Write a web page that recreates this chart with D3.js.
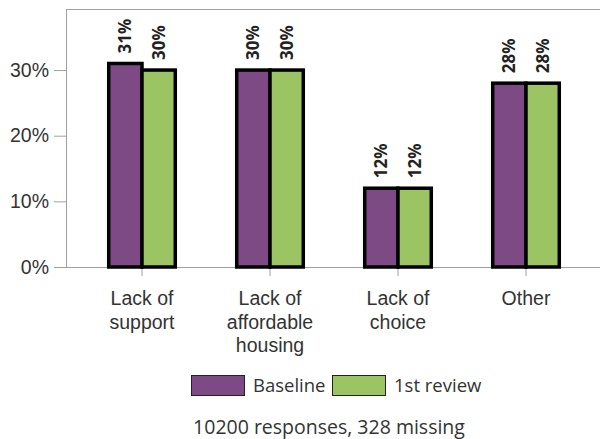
<!DOCTYPE html>
<html>
<head>
<meta charset="utf-8">
<script src="https://cdn.jsdelivr.net/npm/d3@7"></script>
<style>
  body { margin: 0; background: #fff; }
  svg { font-family: 'Open Sans', sans-serif; }
  .eje text { fill: #333; font-size: 19.5px; }
  .eje line, .eje path { stroke: #a0a0a0; }
  .etiqueta { font-weight: bold; font-size: 17px; fill: #222; }
</style>
</head>
<body>
<div id="graf"></div>
<script>
// I. Datos
categorias = [['Lack of', 'support'], ['Lack of', 'affordable', 'housing'], ['Lack of', 'choice'], ['Other']]
series = ['Baseline', '1st review']
baseline = [31, 30, 12, 28]
revision = [30, 30, 12, 28]
ticksY = [0, 10, 20, 30]
pie = '10200 responses, 328 missing'
colores = ['#7d4a86', '#9cc462']

// II. Configuración
ancho_total = 600
alto_total = 439
margins = { top: 9, left: 66, right: 0, bottom: 172 }
ancho = ancho_total - margins.left - margins.right
alto = alto_total - margins.top - margins.bottom

svg = d3.select('#graf').append('svg')
        .attr('width', ancho_total)
        .attr('height', alto_total)

g = svg.append('g')
       .attr('transform', `translate(${ margins.left }, ${ margins.top })`)

nombres = categorias.map(d => d.join(' '))

x = d3.scaleBand()
      .domain(nombres)
      .range([12, 524])
      .paddingInner(0.48)
      .paddingOuter(0.24)

x1 = d3.scaleBand()
       .domain(series)
       .range([0, x.bandwidth()])

y = d3.scaleLinear()
      .domain([0, 39.3])
      .range([alto, 0])

color = d3.scaleOrdinal()
          .domain(series)
          .range(colores)

// marco superior
g.append('line')
 .attr('x1', 0).attr('x2', ancho)
 .attr('y1', 0.5).attr('y2', 0.5)
 .attr('stroke', '#a0a0a0')

// ejes
yAxisGroup = g.append('g')
              .attr('class', 'eje')
              .call(d3.axisLeft(y)
                      .tickValues(ticksY)
                      .tickSize(12)
                      .tickPadding(5)
                      .tickFormat(d => d + '%'))
yAxisGroup.select('.domain').attr('d', `M0.5,0V${ alto }`)

xAxisGroup = g.append('g')
              .attr('class', 'eje')
              .attr('transform', `translate(0, ${ alto })`)
              .call(d3.axisBottom(x).tickSize(9).tickFormat(''))
xAxisGroup.select('.domain').attr('d', `M0,0.5H${ ancho }`)

xAxisGroup.selectAll('.tick').each(function(d, i) {
  t = d3.select(this).append('text')
        .attr('y', 38)
        .attr('text-anchor', 'middle')
  categorias[i].forEach((linea, j) => {
    t.append('tspan')
     .attr('x', 0)
     .attr('dy', j == 0 ? 0 : 23.5)
     .text(linea)
  })
})

// barras
datos = []
nombres.forEach((c, i) => {
  datos.push({ cat: c, serie: series[0], valor: baseline[i] })
  datos.push({ cat: c, serie: series[1], valor: revision[i] })
})

g.selectAll('rect.barra')
 .data(datos)
 .enter()
 .append('rect')
   .attr('class', 'barra')
   .attr('x', d => x(d.cat) + x1(d.serie))
   .attr('y', d => y(d.valor))
   .attr('width', x1.bandwidth())
   .attr('height', d => alto - y(d.valor))
   .attr('fill', d => color(d.serie))
   .attr('stroke', '#000')
   .attr('stroke-width', 3.5)

g.selectAll('text.etiqueta')
 .data(datos)
 .enter()
 .append('text')
   .attr('class', 'etiqueta')
   .attr('transform', d => `translate(${ x(d.cat) + x1(d.serie) + x1.bandwidth() / 2 + 6 }, ${ y(d.valor) - 10 }) rotate(-90)`)
   .text(d => d.valor + '%')

// leyenda
leyenda = svg.append('g')
             .attr('transform', 'translate(191, 375)')
posLeyenda = [0, 141]
series.forEach((s, i) => {
  lg = leyenda.append('g').attr('transform', `translate(${ posLeyenda[i] }, 0)`)
  lg.append('rect')
    .attr('x', 0.5).attr('y', 0.5)
    .attr('width', 53).attr('height', 20)
    .attr('fill', color(s))
    .attr('stroke', '#222')
  lg.append('text')
    .attr('x', 62).attr('y', 17)
    .attr('fill', '#333')
    .style('font-size', '18.5px')
    .text(s)
})

svg.append('text')
   .attr('x', 329)
   .attr('y', 434)
   .attr('text-anchor', 'middle')
   .attr('fill', '#333')
   .style('font-size', '19.5px')
   .text(pie)
</script>
</body>
</html>
